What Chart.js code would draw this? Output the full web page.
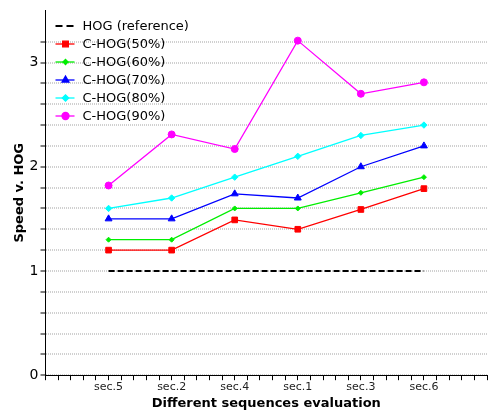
<!DOCTYPE html>
<html>
<head>
<meta charset="utf-8">
<script src="https://cdn.jsdelivr.net/npm/chart.js@4.4.1/dist/chart.umd.min.js"></script>
<style>
  html, body { margin: 0; padding: 0; background: #fff; }
  #wrap { width: 492px; height: 413px; position: relative; }
</style>
</head>
<body>
<div id="wrap"><canvas id="chart"></canvas></div>
<script>
var sequences = ["sec.5", "sec.2", "sec.4", "sec.1", "sec.3", "sec.6"];
var hogRef  = [1, 1, 1, 1, 1, 1];
var chog50  = [1.2, 1.2, 1.49, 1.4, 1.59, 1.79];
var chog60  = [1.3, 1.3, 1.6, 1.6, 1.75, 1.9];
var chog70  = [1.5, 1.5, 1.74, 1.7, 2.0, 2.2];
var chog80  = [1.6, 1.7, 1.9, 2.1, 2.3, 2.4];
var chog90  = [1.82, 2.31, 2.17, 3.21, 2.7, 2.81];

var FONT = "'DejaVu Sans', Verdana, sans-serif";

function pts(arr) {
  return arr.map(function (v, i) { return { x: i + 1, y: v }; });
}

function series(label, arr, color, style, radius) {
  return {
    label: label,
    data: pts(arr),
    borderColor: color,
    backgroundColor: color,
    borderWidth: 1.3,
    pointStyle: style,
    pointRadius: radius,
    pointBorderWidth: 1,
    tension: 0
  };
}

var datasets = [
  {
    label: "HOG (reference)",
    data: pts(hogRef),
    borderColor: "#000",
    borderWidth: 2,
    borderDash: [6, 3],
    pointRadius: 0,
    legendDash: true
  },
  series("C-HOG(50%)", chog50, "#ff0000", "rect", 4),
  series("C-HOG(60%)", chog60, "#00ee00", "rectRot", 2.5),
  series("C-HOG(70%)", chog70, "#0000ff", "triangle", 4),
  series("C-HOG(80%)", chog80, "#00ffff", "rectRot", 3.2),
  series("C-HOG(90%)", chog90, "#ff00ff", "circle", 3.5)
];

// legend drawn inside the plot, top left
var insideLegend = {
  id: "insideLegend",
  afterDraw: function (chart) {
    var ctx = chart.ctx;
    var x0 = chart.chartArea.left + 10;
    var y0 = 26;
    ctx.save();
    ctx.font = "13px " + FONT;
    ctx.textBaseline = "middle";
    chart.data.datasets.forEach(function (ds, i) {
      var y = y0 + i * 18;
      ctx.strokeStyle = ds.borderColor;
      ctx.lineWidth = ds.legendDash ? 2 : 1.3;
      ctx.setLineDash(ds.legendDash ? [7, 4] : []);
      ctx.beginPath();
      ctx.moveTo(x0, y);
      ctx.lineTo(x0 + 19, y);
      ctx.stroke();
      ctx.setLineDash([]);
      if (!ds.legendDash) {
        ctx.fillStyle = ds.backgroundColor;
        Chart.helpers.drawPoint(ctx, {
          pointStyle: ds.pointStyle,
          radius: ds.pointRadius,
          borderWidth: 1,
          rotation: 0
        }, x0 + 10, y);
      }
      ctx.fillStyle = "#000";
      ctx.fillText(ds.label, x0 + 27, y + 1);
    });
    ctx.restore();
  }
};

function isInt(v) { return Math.abs(v - Math.round(v)) < 1e-6; }

function onlyFifths(scale) {
  scale.ticks = scale.ticks.filter(function (t) {
    return Math.abs(t.value * 5 - Math.round(t.value * 5)) < 1e-6;
  });
}

new Chart(document.getElementById("chart"), {
  type: "line",
  data: { datasets: datasets },
  options: {
    responsive: true,
    maintainAspectRatio: false,
    animation: false,
    layout: { padding: { top: 8, right: 0, left: 12, bottom: 2 } },
    plugins: { legend: { display: false }, tooltip: { enabled: false } },
    scales: {
      x: {
        type: "linear",
        min: 0,
        max: 7,
        afterBuildTicks: onlyFifths,
        ticks: {
          stepSize: 0.2,
          autoSkip: false,
          maxRotation: 0,
          padding: 0,
          color: "#222",
          font: { family: FONT, size: 11 },
          callback: function (v) {
            if (isInt(v) && v >= 1 && v <= 6) return sequences[Math.round(v) - 1];
            return "";
          }
        },
        grid: { drawOnChartArea: false, drawTicks: true, tickLength: 5, tickColor: "#000" },
        border: { color: "#000", width: 1 },
        title: {
          display: true,
          text: "Different sequences evaluation",
          color: "#000",
          padding: { top: 2, bottom: 0 },
          font: { family: FONT, size: 13, weight: "bold" }
        }
      },
      y: {
        min: 0,
        max: 3.5,
        afterBuildTicks: onlyFifths,
        ticks: {
          stepSize: 0.2,
          autoSkip: false,
          padding: 2,
          color: "#000",
          font: { family: FONT, size: 14 },
          callback: function (v) { return isInt(v) ? String(Math.round(v)) : ""; }
        },
        grid: {
          color: "#d0d0d0",
          lineWidth: 2,
          tickColor: "#000",
          tickLength: 5,
          tickWidth: 1,
          tickBorderDash: []
        },
        border: { color: "#000", width: 1, dash: [1, 1] },
        title: {
          display: true,
          text: "Speed v. HOG",
          color: "#000",
          padding: { top: 0, bottom: 0 },
          font: { family: FONT, size: 13, weight: "bold" }
        }
      }
    }
  },
  plugins: [insideLegend]
});
</script>
</body>
</html>
